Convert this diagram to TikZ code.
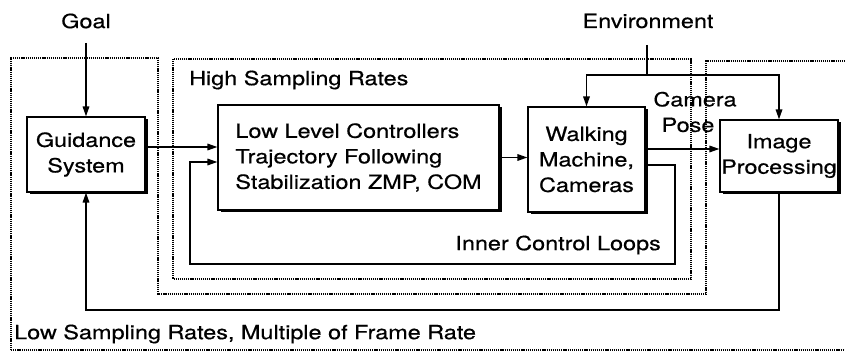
\documentclass[tikz,border=0pt]{standalone}
\usepackage{fontspec}
\setmainfont[FakeStretch=1.2,FakeBold=0.5]{TeX Gyre Heros}
\usetikzlibrary{arrows.meta,shadows}
\begin{document}
\begin{tikzpicture}[x=1pt,y=-1pt,
  font=\fontsize{19.5}{25.5}\selectfont,
  blk/.style={draw,line width=1.1pt,fill=white,align=center,inner sep=0pt,
    drop shadow={shadow xshift=2.5pt,shadow yshift=-2.5pt,opacity=1,fill=black}},
  wire/.style={line width=1.6pt},
  arr/.style={wire,-{Triangle[length=10pt,width=6.5pt]}},
  dots/.style={line width=1.7pt,dash pattern=on 1.2pt off 0.9pt},
  lbl/.style={inner sep=0pt}]
\useasboundingbox (0,0) rectangle (845,352);
% dotted regions
\draw[dots] (173,59) rectangle (691,279);
\draw[dots] (11,350) -- (11,58) -- (158,58) -- (158,294) -- (706,294) -- (706,61) -- (848,61);
\draw[dots] (11,350) -- (848,350);
% boxes
\node[blk,minimum width=118pt,minimum height=75pt] (gs) at (86,154.5) {Guidance\\System};
\node[blk,minimum width=281pt,minimum height=105pt,align=left] (llc) at (358.5,157.5)
  {Low Level Controllers\\Trajectory Following\\Stabilization ZMP, COM};
\node[blk,minimum width=117pt,minimum height=105pt] (wm) at (586.5,159.5) {Walking\\Machine,\\Cameras};
\node[blk,minimum width=118pt,minimum height=72pt] (ip) at (779,156) {Image\\Processing};
% labels
\node[lbl] (goal) at (86,21) {Goal};
\node[lbl] (env) at (648,21) {Environment};
\node[lbl,anchor=west] (hsr) at (189,80) {High Sampling Rates};
\node[lbl,align=center] (cp) at (695,112) {Camera\\\hspace*{-14pt}Pose};
\node[lbl,anchor=east] (icl) at (661,245) {Inner Control Loops};
\node[lbl,anchor=west] (lsr) at (14,334) {Low Sampling Rates, Multiple of Frame Rate};
% coordinates
\coordinate (gtop) at (86,43);
\coordinate (etop) at (647,45);
\coordinate (ebr) at (647,75);
\coordinate (ilr) at (675,264);
\coordinate (ill) at (190,264);
\coordinate (fb) at (780,310);
% connectors
\draw[arr] (gtop) -- (gs.north);
\draw[arr] ([yshift=7.5pt]gs.east) coordinate (a1) -- (a1 -| llc.west);
\draw[arr] (llc.east) -- (llc.east -| wm.west);
\draw[arr] ([yshift=10.5pt]wm.east) coordinate (a2) -- (a2 -| ip.west);
\draw[wire] (etop) -- (ebr);
\draw[arr] (ebr) -| (wm.north);
\draw[arr] (ebr) -| (ip.north);
\draw[arr] ([yshift=-5.5pt]wm.east) coordinate (a3) -- (a3 -| ilr) -- (ilr) -- (ill)
  -- ([yshift=-4.5pt]ill |- llc.west) coordinate (a4) -- (a4 -| llc.west);
\draw[arr] (ip.south) -- (ip.south |- fb) -| (gs.south);
\end{tikzpicture}
\end{document}
